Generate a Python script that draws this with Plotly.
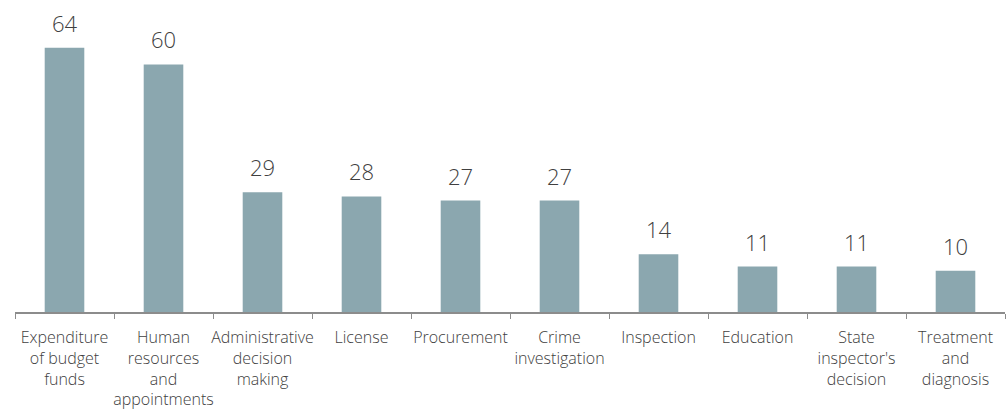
import plotly.graph_objects as go

# Cases by area
categories = [
    "Expenditure<br>of budget<br>funds",
    "Human<br>resources<br>and<br>appointments",
    "Administrative<br>decision<br>making",
    "License",
    "Procurement",
    "Crime<br>investigation",
    "Inspection",
    "Education",
    "State<br>inspector's<br>decision",
    "Treatment<br>and<br>diagnosis",
]
counts = [64, 60, 29, 28, 27, 27, 14, 11, 11, 10]

BAR_COLOR = "#8BA7AF"
TEXT_COLOR = "#404040"
FONT = "Open Sans, Noto Sans, sans-serif"

fig = go.Figure(
    go.Bar(
        x=categories,
        y=counts,
        marker=dict(color=BAR_COLOR, line=dict(width=0)),
        hoverinfo="skip",
    )
)

# Value labels above each bar
for cat, v in zip(categories, counts):
    fig.add_annotation(
        x=cat, y=v, text=str(v), showarrow=False,
        yanchor="middle", yshift=25,
        font=dict(family=FONT, size=22, color=TEXT_COLOR, weight=300),
    )

fig.update_layout(
    width=1006, height=416,
    margin=dict(l=15, r=1, t=0, b=104),
    paper_bgcolor="white", plot_bgcolor="white",
    bargap=0.6,
    showlegend=False,
    font=dict(family=FONT, color=TEXT_COLOR),
)
fig.update_xaxes(
    type="category", automargin=False, tickangle=0,
    showline=True, linecolor="#8C8C8C", linewidth=1.5,
    ticks="outside", tickson="boundaries", ticklen=5, tickcolor="#8C8C8C",
    tickwidth=1, ticklabelstandoff=10,
    tickfont=dict(family=FONT, size=16, color=TEXT_COLOR, weight=300),
    showgrid=False,
)
fig.update_yaxes(
    range=[0, 75.6], visible=False, showgrid=False, zeroline=False,
)

fig.write_html("out.html")
